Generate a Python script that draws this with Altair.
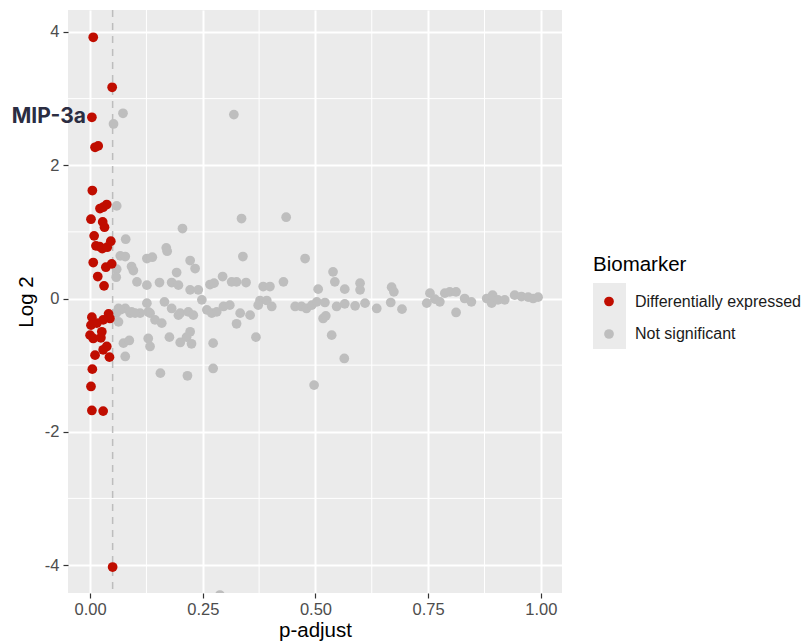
import altair as alt
import pandas as pd

# ---- data ----
de_padj = [0.007, 0.049, 0.004, 0.011, 0.018, 0.005, 0.022, 0.037, 0.029, 0.002, 0.028, 0.032,
           0.009, 0.013, 0.021, 0.027, 0.038, 0.046, 0.007, 0.035, 0.048, 0.017, 0.031, 0.004,
           0.041, 0.044, 0.029, 0.002, 0.015, 0.026, 0.000, 0.007, 0.024, 0.037, 0.029, 0.011,
           0.043, 0.005, 0.002, 0.004, 0.029, 0.050]
de_log2 = [3.92, 3.17, 2.72, 2.27, 2.29, 1.62, 1.35, 1.41, 1.37, 1.19, 1.15, 1.07,
           0.94, 0.79, 0.78, 0.75, 0.77, 0.86, 0.54, 0.47, 0.52, 0.33, 0.19, -0.28,
           -0.23, -0.30, -0.32, -0.40, -0.37, -0.50, -0.55, -0.60, -0.59, -0.72, -0.77, -0.85,
           -0.88, -1.06, -1.32, -1.68, -1.69, -4.03]

ns_padj = [0.052, 0.073, 0.319, 0.059, 0.205, 0.336, 0.435, 0.079, 0.339, 0.477, 0.169, 0.171,
           0.067, 0.078, 0.126, 0.138, 0.222, 0.233, 0.092, 0.096, 0.059, 0.058, 0.192, 0.104,
           0.126, 0.154, 0.181, 0.196, 0.222, 0.240, 0.266, 0.275, 0.294, 0.314, 0.325, 0.346,
           0.384, 0.399, 0.429, 0.539, 0.543, 0.506, 0.565, 0.599, 0.599, 0.669, 0.674, 0.248,
           0.165, 0.126, 0.377, 0.392, 0.403, 0.373, 0.455, 0.469, 0.480, 0.492, 0.503, 0.521,
           0.547, 0.565, 0.588, 0.610, 0.636, 0.667, 0.692, 0.754, 0.747, 0.765, 0.776, 0.787,
           0.798, 0.812, 0.831, 0.846, 0.812, 0.880, 0.893, 0.891, 0.905, 0.920, 0.942, 0.957,
           0.972, 0.983, 0.994, 0.063, 0.078, 0.089, 0.092, 0.111, 0.133, 0.144, 0.159, 0.181,
           0.196, 0.063, 0.129, 0.200, 0.218, 0.229, 0.259, 0.270, 0.281, 0.296, 0.310, 0.333,
           0.355, 0.325, 0.517, 0.523, 0.222, 0.214, 0.200, 0.225, 0.176, 0.129, 0.133, 0.074,
           0.087, 0.078, 0.273, 0.368, 0.536, 0.156, 0.216, 0.273, 0.564, 0.497, 0.288, 0.067,
           0.100, 0.058]
ns_log2 = [2.62, 2.78, 2.76, 1.39, 1.05, 1.20, 1.22, 0.89, 0.63, 0.60, 0.76, 0.71,
           0.64, 0.63, 0.60, 0.62, 0.57, 0.45, 0.48, 0.42, 0.44, 0.32, 0.39, 0.25,
           0.20, 0.24, 0.24, 0.20, 0.13, 0.13, 0.21, 0.23, 0.33, 0.25, 0.25, 0.24,
           0.18, 0.18, 0.25, 0.40, 0.25, 0.14, 0.14, 0.23, 0.13, 0.17, 0.10, -0.02,
           -0.05, -0.07, -0.03, -0.03, -0.12, -0.10, -0.12, -0.12, -0.15, -0.10, -0.05, -0.06,
           -0.12, -0.08, -0.11, -0.07, -0.15, -0.06, -0.16, 0.08, -0.07, -0.01, -0.05, 0.08,
           0.10, 0.10, 0.00, -0.05, -0.21, 0.00, 0.05, -0.07, -0.02, -0.02, 0.05, 0.03,
           0.02, 0.00, 0.02, -0.15, -0.15, -0.22, -0.20, -0.22, -0.22, -0.32, -0.37, -0.15,
           -0.25, -0.35, -0.20, -0.22, -0.20, -0.25, -0.17, -0.22, -0.20, -0.12, -0.10, -0.22,
           -0.25, -0.38, -0.30, -0.26, -0.50, -0.58, -0.66, -0.68, -0.58, -0.60, -0.72, -0.67,
           -0.63, -0.87, -0.67, -0.58, -0.55, -1.12, -1.16, -1.05, -0.90, -1.30, -4.45, -0.17,
           -0.22, -0.22]

groups = ["Differentially expressed", "Not significant"]
colors = ["#C00D00", "#BEBEBE"]
key_slots = ["slot 1", "slot 2"]

label_names = ["MIP-3a"]
label_padj = [0.004]
label_log2 = [2.72]

x_major = [0, 0.25, 0.5, 0.75, 1.0]
x_minor = [0.125, 0.375, 0.625, 0.875]
y_major = [-4, -2, 0, 2, 4]
y_minor = [-3, -1, 1, 3]
cutoff = [0.05]

x_domain = [-0.049, 1.047]
y_domain = [-4.42, 4.33]

# ---- tables ----
pts = pd.concat([
    pd.DataFrame({"padj": ns_padj, "log2": ns_log2, "Biomarker": groups[1], "key": key_slots[1]}),
    pd.DataFrame({"padj": de_padj, "log2": de_log2, "Biomarker": groups[0], "key": key_slots[0]}),
], ignore_index=True)
labels = pd.DataFrame({"name": label_names, "padj": label_padj, "log2": label_log2})

FONT = "Liberation Sans"

xscale = alt.Scale(domain=x_domain, nice=False, zero=False)
yscale = alt.Scale(domain=y_domain, nice=False, zero=False)

xaxis = alt.Axis(values=x_major, labelExpr="format(datum.value, '.2f')", title="p-adjust",
                 grid=True, gridColor="white", gridWidth=2, domain=False,
                 tickColor="#333333", tickSize=5, tickWidth=1.2,
                 labelColor="#4D4D4D", labelFontSize=16.5, labelFont=FONT, labelPadding=3,
                 titleFont=FONT, titleFontSize=20.5, titleFontWeight="normal", titleColor="black",
                 titlePadding=3)
yaxis = alt.Axis(values=y_major, labelExpr="toString(datum.value)", title="Log 2",
                 grid=True, gridColor="white", gridWidth=2, domain=False,
                 tickColor="#333333", tickSize=5, tickWidth=1.2,
                 labelColor="#4D4D4D", labelFontSize=16.5, labelFont=FONT, labelPadding=4,
                 titleFont=FONT, titleFontSize=20.5, titleFontWeight="normal", titleColor="black",
                 titlePadding=8)

base = alt.Chart(pts)

minor_x = alt.Chart(pd.DataFrame({"v": x_minor})).mark_rule(color="white", strokeWidth=1).encode(
    x=alt.X("v:Q", scale=xscale, axis=xaxis))
minor_y = alt.Chart(pd.DataFrame({"v": y_minor})).mark_rule(color="white", strokeWidth=1).encode(
    y=alt.Y("v:Q", scale=yscale, axis=yaxis))
vline = alt.Chart(pd.DataFrame({"v": cutoff})).mark_rule(
    color="#BDBDBD", strokeWidth=1.5, strokeDash=[7, 6]).encode(x=alt.X("v:Q", scale=xscale))

# invisible layer whose legend draws the grey key-background boxes
keybg = base.mark_point(size=0, filled=True, color="#EBEBEB", strokeWidth=0).encode(
    x=alt.X("padj:Q", scale=xscale),
    y=alt.Y("log2:Q", scale=yscale),
    shape=alt.Shape("key:N", scale=alt.Scale(domain=key_slots, range=["square", "square"]),
                    legend=alt.Legend(orient="none", legendX=525, legendY=273, zindex=1,
                                      title=None, padding=0, labelExpr="''",
                                      symbolSize=1089, symbolFillColor="#EBEBEB",
                                      symbolStrokeColor="#EBEBEB", symbolStrokeWidth=0,
                                      symbolOpacity=1, rowPadding=0)),
)

points = base.mark_circle(size=95, opacity=1, clip=True).encode(
    x=alt.X("padj:Q", scale=xscale, axis=xaxis),
    y=alt.Y("log2:Q", scale=yscale, axis=yaxis),
    color=alt.Color("Biomarker:N", scale=alt.Scale(domain=groups, range=colors),
                    legend=alt.Legend(orient="none", legendX=525, legendY=245, zindex=2,
                                      title="Biomarker", titleFont=FONT, titleFontSize=20.5,
                                      titleFontWeight="normal", titleColor="black",
                                      titlePadding=18, padding=0,
                                      labelFont=FONT, labelFontSize=16, labelColor="#1A1A1A",
                                      labelLimit=400,
                                      symbolType="circle", symbolSize=95, symbolStrokeWidth=0,
                                      symbolOffset=8, labelOffset=18, rowPadding=16.5)),
)

text = alt.Chart(labels).mark_text(align="right", baseline="middle", dx=-6, font="Inter",
                                   fontSize=21, fontWeight="bold", color="#2B2D42").encode(
    x=alt.X("padj:Q", scale=xscale),
    y=alt.Y("log2:Q", scale=yscale),
    text="name:N",
)

chart = alt.layer(minor_x, minor_y, vline, keybg, points, text).properties(
    width=494, height=583,
    autosize=alt.AutoSizeParams(type="none"),
    padding={"left": 60, "top": 2, "right": 242, "bottom": 48},
).configure_view(fill="#EBEBEB", strokeWidth=0)

chart.save("out.html", embed_options={"renderer": "svg", "actions": False})
